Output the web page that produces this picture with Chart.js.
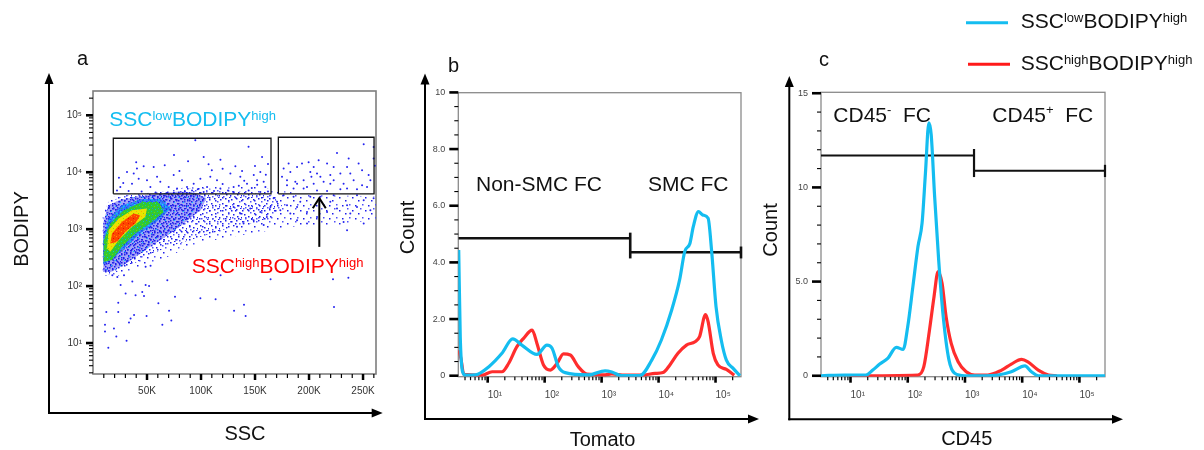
<!DOCTYPE html>
<html><head><meta charset="utf-8">
<script src="https://cdn.jsdelivr.net/npm/chart.js@4.4.1/dist/chart.umd.min.js"></script>
<style>
html,body{margin:0;padding:0;background:#fff;}
body{width:1204px;height:450px;position:relative;overflow:hidden;}
.pane{position:absolute;top:0;height:450px;}
#wa{left:0;width:390px}
#wb{left:390px;width:370px}
#wc{left:755px;width:449px}
</style></head><body>
<div class="pane" id="wa"><canvas id="ca"></canvas></div>
<div class="pane" id="wb"><canvas id="cb"></canvas></div>
<div class="pane" id="wc"><canvas id="cc"></canvas></div>
<script>
// ---------------- Panel a : SSC (K) vs BODIPY ----------------
const sscMajorTicks = [50, 100, 150, 200, 250];
const sscMinorTicks = [10, 20, 30, 40, 60, 70, 80, 90, 110, 120, 130, 140, 160, 170, 180, 190, 210, 220, 230, 240, 260];
const bodipyMajorTicks = [10, 100, 1000, 10000, 100000];
const bodipyMinorTicks = [3, 4, 5, 6, 7, 8, 9, 20, 30, 40, 50, 60, 70, 80, 90, 200, 300, 400, 500, 600, 700, 800, 900,
  2000, 3000, 4000, 5000, 6000, 7000, 8000, 9000, 20000, 30000, 40000, 50000, 60000, 70000, 80000, 90000, 200000];

// density regions of the pseudocolour plot (SSC K, BODIPY)
const cloudSparse = [[9,160],[9,2000],[13,3300],[25,4100],[50,4300],[80,4800],[100,5600],[125,5400],[150,5600],[165,5000],[200,4000],[262,3800],[262,1500],[230,1200],[180,1100],[150,850],[120,700],[90,500],[70,330],[50,230],[30,170],[18,140]];
const cloudMedium = [[9.5,170],[9.5,1700],[14,3000],[30,3900],[60,4400],[87,5500],[112,5100],[140,4600],[165,4000],[175,2600],[165,1500],[130,1100],[99,730],[68,480],[47,310],[31,210],[16,160]];
const cloudDense = [[9.8,180],[9.5,1300],[14,2600],[25,3300],[40,3700],[60,4200],[80,4600],[95,4300],[105,3500],[100,2200],[85,1300],[70,800],[55,520],[40,330],[28,230],[16,175]];
const cloudCyan = [[9.6,240],[9.6,700],[14,1500],[26,2600],[45,3400],[63,3400],[72,2300],[60,1400],[44,850],[30,480],[18,300]];
const cloudGreen = [[9.9,268],[9.9,640],[16,1260],[28.4,2150],[45.4,3000],[60.8,3000],[65.5,2000],[54.6,1340],[39.2,840],[26.9,490],[17.6,286]];
const cloudYellow = [[13,457],[14.5,960],[23.8,1540],[36.1,2150],[50,2300],[48.4,1640],[36.1,1100],[23.8,640],[16,400]];
const cloudRed = [[16,561],[17.6,841],[26.9,1343],[37.7,1885],[43.8,1762],[39.2,1260],[29.9,897],[22.2,598]];

// individual events
const eventsLowGate = [[94.7,36500],[102.5,18600],[144,27900],[156.5,18600],[107,13800],[131.8,12700],[46.9,12700],[56.2,12400],[66.4,13300],[40.7,11600],[31.5,10100],[37.7,9500],[42.3,7700],[50,7200],[36.1,6300],[59.3,8300],[74.7,8900],[82.4,7200],[87,5500],[93.2,6300],[99.4,7700],[108.6,8300],[114.8,7200],[127.2,9500],[136.4,8300],[148.8,8900],[154.9,10100],[130.2,5500],[142.6,6300],[151.9,7200],[159.6,5500],[117.9,5200],[105.6,5500],[70.1,5500],[62.3,6800],[25.3,5500],[22.2,4800],[53.1,5500],[77.8,5200],[91.7,4800],[102.5,4500],[130.2,4500],[144.1,4800],[154.9,4500],[24,8000],[28,6500],[33,4700],[45,4600],[58,4400],[68,4300],[85,4600],[97,5000],[112,4700],[120,6200],[125,4800],[135,5800],[140,7100],[147,5300],[152,6000],[158,6800],[162,4600],[110,10800],[120,11500],[138,10500],[150,12800],[160,9000],[80,10500],[88,15600],[118,16500],[162,14000],[75,20000],[40,15000]];
const eventsHighGate = [[250.6,31000],[225.9,21800],[236.7,17400],[259.8,17400],[208.9,16300],[216.7,14200],[204.3,12400],[193.5,14200],[188.9,12400],[182.7,10100],[176.5,11600],[201.2,10100],[207.4,9500],[219.7,8900],[229,9500],[238.2,9500],[249.1,10800],[255.2,8900],[241.3,7200],[232,6300],[222.8,7200],[213.5,6800],[204.3,6300],[195,7200],[187.3,6800],[179.6,7200],[175,8300],[185.7,5200],[195,5200],[207.4,4800],[216.7,4700],[229,5000],[244.4,5000],[253.7,5500],[256.8,7200],[210.5,8300],[181.1,14200],[245.9,14200],[235.2,12400],[222.8,12400],[199.6,15000],[259.8,27700],[179.6,5900],[188.9,6300],[198.1,5500],[235.2,5200],[249.1,5900],[202.2,8300],[219.7,6300],[261,13000]];
const eventsBelowGates = [[130.2,2460],[136.4,1880],[145.6,2300],[154.9,2000],[164.2,2460],[170.4,3020],[173.4,2150],[179.6,2640],[182.7,1880],[188.9,2460],[191.9,3020],[198.1,2000],[188.9,1440],[198.1,1260],[219.7,3020],[225.9,2300],[216.7,2000],[235.2,2640],[238.2,1880],[244.4,2460],[250.6,3230],[259.8,3500],[256.8,2150],[207.4,1640],[232,1340],[235.2,960],[250.6,1260],[222.8,3960],[210.5,3700],[244.4,3960],[201.2,3700],[185.7,3700],[167.2,3500],[176.5,3960],[161,1640],[148.7,1440],[139.4,1260],[158,1180],[133.3,1100]];
const eventsLow = [[11.7,190],[17.9,155],[22.5,145],[28.7,155],[25.6,105],[30.2,74],[36.4,120],[39.4,69],[45.6,79],[47.2,67],[51.9,100],[48.7,218],[53.3,228],[68.8,127],[75.9,65],[60.5,50],[23.4,51],[12.3,35],[23.4,35],[38,31],[34.8,27],[33.3,23],[11.1,21],[11.1,16],[19.4,18],[21.6,13],[31.1,11],[14.2,8.3],[49.6,30],[70.4,37],[72.5,25],[64.2,21],[113.5,59],[130.6,37],[139.8,47],[141.3,30],[164.4,132],[222.2,132],[236.4,140],[223.1,43],[118.1,155],[48.7,105],[99.4,61]];

const gateLowBox = [[18.8,4170],[164.8,4170],[164.8,39500],[18.8,39500],[18.8,4170]];
const gateHighBox = [[171.6,4170],[260.2,4170],[260.2,41100],[171.6,41100],[171.6,4170]];
const gateArrow = [209.5, 489, 3500]; // SSC, BODIPY from, BODIPY to

// ---------------- Panel b : Tomato histogram ----------------
const fluorMajorTicks = [10, 100, 1000, 10000, 100000];
const fluorMinorTicks = [4, 5, 6, 7, 8, 9, 20, 30, 40, 50, 60, 70, 80, 90, 200, 300, 400, 500, 600, 700, 800, 900,
  2000, 3000, 4000, 5000, 6000, 7000, 8000, 9000, 20000, 30000, 40000, 50000, 60000, 70000, 80000, 90000, 200000];
const tomatoCountMajor = [0, 2, 4, 6, 8, 10];
const tomatoCountMinor = [0.5, 1, 1.5, 2.5, 3, 3.5, 4.5, 5, 5.5, 6.5, 7, 7.5, 8.5, 9, 9.5];

const tomatoLowX = [3.1, 3.3, 3.63, 4.1, 6.1, 10.5, 17.8, 27.5, 39.8, 73.3, 110, 135, 174, 229, 589, 1150, 1510, 2240, 4680, 7590, 11200, 17000, 23400, 28800, 35500, 40700, 50100, 60300, 74100, 85100, 102000, 126000, 155000, 204000, 269000];
const tomatoLowCount = [4.44, 1.38, 0.14, 0.02, 0.03, 0.32, 0.79, 1.30, 1.08, 0.75, 1.08, 0.97, 0.32, 0.11, 0.03, 0.17, 0.13, 0.0, 0.0, 0.55, 1.26, 2.32, 3.38, 4.38, 4.67, 5.26, 5.79, 5.67, 5.56, 4.44, 2.44, 1.26, 0.55, 0.26, 0];
const tomatoHighX = [3.1, 3.4, 3.8, 7.9, 12.0, 17.8, 23.4, 32.4, 42.7, 60.3, 73.3, 95.5, 126, 166, 214, 282, 389, 550, 1150, 1510, 2570, 5010, 8710, 12000, 15800, 21900, 30900, 43700, 52500, 66800, 74100, 91200, 110000, 155000, 214000];
const tomatoHighCount = [0.9, 0.6, 0.05, 0.02, 0.14, 0.14, 0.44, 1.02, 1.32, 1.61, 1.14, 0.38, 0.2, 0.44, 0.77, 0.73, 0.32, 0.06, 0.03, 0.06, 0.02, 0.02, 0.08, 0.11, 0.38, 0.79, 1.08, 1.20, 1.38, 2.16, 1.91, 0.79, 0.38, 0.22, 0.02];
const gateNonSMC = [3.05, 3180, 4.85];   // from, to, level
const gateSMC = [3180, 280000, 4.36];

// ---------------- Panel c : CD45 histogram ----------------
const cd45CountMajor = [0, 5, 10, 15];
const cd45CountMinor = [1, 2, 3, 4, 6, 7, 8, 9, 11, 12, 13, 14];
const cd45LowX = [3.05, 7.85, 18.6, 24.5, 32.4, 44.7, 63.1, 83.2, 100, 123, 151, 178, 204, 234, 257, 295, 347, 417, 525, 661, 1000, 1950, 3800, 6460, 11200, 14500, 19100, 280000];
const cd45LowCount = [0, 0.04, 0.04, 0.30, 0.62, 0.92, 1.51, 1.40, 2.61, 4.73, 6.86, 8.10, 10.77, 13.43, 12.80, 9.52, 6.15, 3.14, 0.84, 0.13, 0, 0, 0.04, 0.21, 0.52, 0.21, 0, 0];
const cd45HighX = [10, 151, 191, 240, 288, 339, 398, 468, 575, 759, 1050, 1480, 2510, 4370, 6460, 9770, 12600, 19100, 28800, 40000];
const cd45HighCount = [0, 0.04, 0.48, 2.43, 4.20, 5.53, 4.91, 3.14, 1.72, 0.74, 0.21, 0.04, 0.04, 0.30, 0.62, 0.87, 0.74, 0.30, 0.04, 0];
const gateCD45neg = [3.05, 1440, 11.69];
const gateCD45pos = [1440, 280000, 10.89];

// ================= helpers =================
const FONT = '"Liberation Sans", Arial, Helvetica, sans-serif';
const BLUE = '#14bdf0', RED = '#ff2d2d';
Chart.defaults.font.family = FONT;
const SUP = {'0':'⁰','1':'¹','2':'²','3':'³','4':'⁴','5':'⁵'};
const pow10Label = v => '10' + SUP[String(Math.round(Math.log10(v)))];
const xy = pairs => pairs.map(([x, y]) => ({x, y}));
const zip = (xs, ys) => xs.map((x, i) => ({x, y: ys[i]}));

function pattern(size, bg, dots) {
  const c = document.createElement('canvas'); c.width = size; c.height = size;
  const g = c.getContext('2d');
  if (bg) { g.fillStyle = bg; g.fillRect(0, 0, size, size); }
  for (const [x, y, col, s] of dots) { g.fillStyle = col; g.fillRect(x, y, s || 1.5, s || 1.5); }
  return g.createPattern(c, 'repeat');
}
const DB = 'rgb(30,30,235)', LB = 'rgb(80,80,250)', CY = 'rgb(0,210,250)';
const patSparse = pattern(13, null, [[1,2,DB],[7,5,DB],[11,9,LB],[4,10,DB],[9,0,LB]]);
const patMedium = pattern(11, null, [[0,1,DB],[5,0,DB],[8,3,LB],[2,5,DB],[6,7,DB],[10,8,DB],[3,9,LB],[9,10,DB]]);
const patDense = pattern(9, 'rgba(40,40,235,0.42)', [[0,0,DB],[4,1,DB],[7,2,DB],[2,3,DB],[6,5,DB],[1,6,DB],[4,7,DB],[8,7,DB],[3,4,CY,1],[7,8,CY,1]]);
const patCyan = pattern(7, 'rgba(20,110,250,0.7)', [[1,1,'rgb(0,225,255)'],[4,3,'rgb(0,210,240)'],[2,5,'rgb(40,200,80)',1],[6,0,'rgb(0,200,255)',1],[5,6,DB,1]]);
const patGreen = pattern(6, 'rgb(50,200,50)', [[1,1,'rgb(0,210,170)',1],[4,2,'rgb(120,220,0)',1],[2,4,'rgb(30,140,240)',1],[5,5,'rgb(0,200,230)',1]]);
const patYellow = pattern(5, 'rgb(235,228,0)', [[1,1,'rgb(255,170,0)',1],[3,3,'rgb(150,220,0)',1],[4,0,'rgb(255,200,0)',1]]);
const patRed = pattern(5, 'rgb(255,70,0)', [[1,1,'rgb(255,150,0)',1],[3,3,'rgb(225,20,0)',1],[4,0,'rgb(255,120,0)',1]]);

function rich(ctx, x, y, parts, color, size, supSize, raise) {
  ctx.fillStyle = color; ctx.textAlign = 'left'; ctx.textBaseline = 'alphabetic';
  for (const [t, sup] of parts) {
    ctx.font = (sup ? supSize : size) + 'px ' + FONT;
    ctx.fillText(t, x, sup ? y - raise : y);
    x += ctx.measureText(t).width;
  }
}
function text(ctx, s, x, y, size, align, color) {
  ctx.font = size + 'px ' + FONT; ctx.fillStyle = color || '#111';
  ctx.textAlign = align || 'left'; ctx.textBaseline = 'alphabetic';
  ctx.fillText(s, x, y);
}
function vtext(ctx, s, cx, cy, size) {
  ctx.save(); ctx.translate(cx, cy); ctx.rotate(-Math.PI / 2);
  text(ctx, s, 0, size * 0.36, size, 'center');
  ctx.restore();
}
function arrowAxes(ctx, x0, y0, yTip, xTip) {
  ctx.save(); ctx.strokeStyle = '#000'; ctx.fillStyle = '#000'; ctx.lineWidth = 2;
  ctx.beginPath(); ctx.moveTo(x0, y0 + 1); ctx.lineTo(x0, yTip + 8); ctx.stroke();
  ctx.beginPath(); ctx.moveTo(x0 - 1, y0); ctx.lineTo(xTip - 8, y0); ctx.stroke();
  ctx.beginPath(); ctx.moveTo(x0, yTip); ctx.lineTo(x0 - 4.5, yTip + 11); ctx.lineTo(x0 + 4.5, yTip + 11); ctx.closePath(); ctx.fill();
  ctx.beginPath(); ctx.moveTo(xTip, y0); ctx.lineTo(xTip - 11, y0 - 4.5); ctx.lineTo(xTip - 11, y0 + 4.5); ctx.closePath(); ctx.fill();
  ctx.restore();
}

function decor(off, spec, draw) {
  return {
    id: 'decor',
    beforeDatasetsDraw(chart) {
      const ctx = chart.ctx, a = chart.chartArea;
      ctx.save();
      ctx.strokeStyle = spec.frame; ctx.lineWidth = spec.frameW;
      ctx.strokeRect(a.left, a.top, a.right - a.left, a.bottom - a.top);
      ctx.strokeStyle = '#000';
      for (const t of spec.ticks) {
        const sc = chart.scales[t.axis];
        for (const v of t.values) {
          const p = sc.getPixelForValue(v);
          ctx.lineWidth = t.w; ctx.beginPath();
          if (t.axis === 'x') { ctx.moveTo(p, a.bottom); ctx.lineTo(p, a.bottom + t.len); }
          else { ctx.moveTo(a.left, p); ctx.lineTo(a.left - t.len, p); }
          ctx.stroke();
        }
      }
      ctx.restore();
    },
    afterDraw(chart) {
      const ctx = chart.ctx; ctx.save(); ctx.translate(-off, 0);
      draw(ctx, chart, off); ctx.restore();
    }
  };
}
const poly = (data, bg, order) => ({data: xy(data), showLine: true, fill: 'shape', backgroundColor: bg, borderWidth: 0, borderColor: 'transparent', pointRadius: 0, order});
const dots = (data, order) => ({data: xy(data), showLine: false, pointRadius: 1, pointStyle: 'circle', backgroundColor: 'rgb(35,35,240)', borderWidth: 0, order});
const gateLine = (data, w, order) => ({data, showLine: true, fill: false, borderColor: '#111', borderWidth: w, pointRadius: 0, order, tension: 0});
const noGrid = {display: false, drawTicks: false};

// ================= Chart a =================
new Chart(document.getElementById('ca'), {
  type: 'scatter',
  data: {datasets: [
    gateLine(xy(gateLowBox), 1.3, 1),
    gateLine(xy(gateHighBox), 1.3, 1),
    dots(eventsLowGate, 2), dots(eventsHighGate, 2), dots(eventsBelowGates, 2), dots(eventsLow, 2),
    poly(cloudRed, patRed, 3),
    poly(cloudYellow, patYellow, 4),
    poly(cloudGreen, patGreen, 5),
    poly(cloudCyan, patCyan, 6),
    poly(cloudDense, patDense, 7),
    poly(cloudMedium, patMedium, 8),
    poly(cloudSparse, patSparse, 9)
  ]},
  options: {
    responsive: true, maintainAspectRatio: false, animation: false, events: [], devicePixelRatio: 1,
    layout: {padding: {left: 53, right: 14, top: 91, bottom: 46}},
    plugins: {legend: {display: false}, tooltip: {enabled: false}},
    scales: {
      x: {type: 'linear', min: 0, max: 262, grid: noGrid, border: {display: false},
        afterBuildTicks: s => { s.ticks = [...sscMajorTicks, ...sscMinorTicks].sort((a, b) => a - b).map(v => ({value: v})); },
        afterFit: s => { s.height = 30; },
        ticks: {autoSkip: false, maxRotation: 0, padding: 11, color: '#333', font: {size: 10},
          callback: v => sscMajorTicks.includes(v) ? v + 'K' : ''}},
      y: {type: 'logarithmic', min: 2.86, max: 267000, grid: noGrid, border: {display: false},
        afterBuildTicks: s => { s.ticks = [...bodipyMajorTicks, ...bodipyMinorTicks].sort((a, b) => a - b).map(v => ({value: v})); },
        afterFit: s => { s.width = 40; },
        ticks: {autoSkip: false, padding: 11, color: '#333', font: {size: 10},
          callback: v => bodipyMajorTicks.includes(v) ? pow10Label(v) : ''}}
    }
  },
  plugins: [decor(0, {frame: '#7d7d7d', frameW: 1.6, ticks: [
      {axis: 'x', values: sscMajorTicks, len: 6, w: 2.5}, {axis: 'x', values: sscMinorTicks, len: 4, w: 1.2},
      {axis: 'y', values: bodipyMajorTicks, len: 7, w: 2.6}, {axis: 'y', values: bodipyMinorTicks, len: 4, w: 1.1}]},
    (ctx, chart) => {
      arrowAxes(ctx, 49, 413, 73, 382.7);
      text(ctx, 'a', 77, 65, 20, 'left');
      vtext(ctx, 'BODIPY', 21, 229, 20);
      text(ctx, 'SSC', 245, 440, 20, 'center');
      rich(ctx, 109.3, 126, [['SSC', 0], ['low', 1], ['BODIPY', 0], ['high', 1]], BLUE, 21, 13, 6);
      rich(ctx, 191.7, 273.3, [['SSC', 0], ['high', 1], ['BODIPY', 0], ['high', 1]], '#ff0000', 21, 13, 6);
      const sx = chart.scales.x.getPixelForValue(gateArrow[0]);
      const y1 = chart.scales.y.getPixelForValue(gateArrow[1]);
      const y2 = chart.scales.y.getPixelForValue(gateArrow[2]);
      ctx.strokeStyle = '#000'; ctx.lineWidth = 2;
      ctx.beginPath(); ctx.moveTo(sx, y1); ctx.lineTo(sx, y2); ctx.stroke();
      ctx.beginPath(); ctx.moveTo(sx - 6.5, y2 + 10); ctx.lineTo(sx, y2); ctx.lineTo(sx + 6.5, y2 + 10); ctx.stroke();
    })]
});

// ================= histogram factory =================
function histogram(id, off, pad, yMin, yMax, yMajor, yMinor, yFmt, lowX, lowY, highX, highY, gates, gateW, draw) {
  const gateSets = gates.map(([from, to, level]) => gateLine([{x: from, y: level}, {x: to, y: level}], gateW, 3));
  return new Chart(document.getElementById(id), {
    type: 'scatter',
    data: {datasets: [
      {data: zip(lowX, lowY), showLine: true, borderColor: BLUE, borderWidth: 3.2, pointRadius: 0, cubicInterpolationMode: 'monotone', order: 1},
      {data: zip(highX, highY), showLine: true, borderColor: RED, borderWidth: 3.2, pointRadius: 0, cubicInterpolationMode: 'monotone', order: 2},
      ...gateSets
    ]},
    options: {
      responsive: true, maintainAspectRatio: false, animation: false, events: [], devicePixelRatio: 1,
      layout: {padding: pad},
      plugins: {legend: {display: false}, tooltip: {enabled: false}},
      scales: {
        x: {type: 'logarithmic', min: 3.05, max: 280000, grid: noGrid, border: {display: false},
          afterBuildTicks: s => { s.ticks = [...fluorMajorTicks, ...fluorMinorTicks].sort((a, b) => a - b).map(v => ({value: v})); },
          afterFit: s => { s.height = 30; },
          ticks: {autoSkip: false, maxRotation: 0, align: 'start', padding: 13, color: '#444', font: {size: 10},
            callback: v => fluorMajorTicks.includes(v) ? pow10Label(v) : ''}},
        y: {type: 'linear', min: yMin, max: yMax, grid: noGrid, border: {display: false},
          afterBuildTicks: s => { s.ticks = [...yMajor, ...yMinor].sort((a, b) => a - b).map(v => ({value: v})); },
          afterFit: s => { s.width = 40; },
          ticks: {autoSkip: false, padding: 13, color: '#444', font: {size: 9},
            callback: v => yMajor.includes(v) ? yFmt(v) : ''}}
      }
    },
    plugins: [decor(off, {frame: '#8a8a8a', frameW: 1.3, ticks: [
        {axis: 'x', values: fluorMajorTicks, len: 6, w: 2.6}, {axis: 'x', values: fluorMinorTicks, len: 3.5, w: 1.2},
        {axis: 'y', values: yMajor, len: 9, w: 2.6}, {axis: 'y', values: yMinor, len: 4, w: 1.1}]}, draw)]
  });
}
function gateEnds(ctx, chart, ends, w, off) {
  ctx.strokeStyle = '#111'; ctx.lineWidth = w;
  for (const [xv, y1, y2] of ends) {
    const px = chart.scales.x.getPixelForValue(xv) + off;
    ctx.beginPath(); ctx.moveTo(px, chart.scales.y.getPixelForValue(y1)); ctx.lineTo(px, chart.scales.y.getPixelForValue(y2)); ctx.stroke();
  }
}

// ================= Chart b =================
histogram('cb', 390, {left: 28.3, right: 19, top: 92.7, bottom: 43.3}, -0.035, 9.99,
  tomatoCountMajor, tomatoCountMinor, v => v === 0 ? '0' : v === 10 ? '10' : v.toFixed(1),
  tomatoLowX, tomatoLowCount, tomatoHighX, tomatoHighCount, [gateNonSMC, gateSMC], 2.6,
  (ctx, chart, off) => {
    gateEnds(ctx, chart, [[gateNonSMC[1], 4.14, 5.05], [gateSMC[1], 4.14, 4.56]], 2.6, off);
    arrowAxes(ctx, 425, 419, 73.5, 759);
    text(ctx, 'b', 448, 71.7, 20, 'left');
    vtext(ctx, 'Count', 406.5, 227.5, 20);
    text(ctx, 'Tomato', 602.5, 446, 20, 'center');
    text(ctx, 'Non-SMC FC', 476, 190.5, 21, 'left');
    text(ctx, 'SMC FC', 648, 190.5, 21, 'left');
  });

// ================= Chart c =================
histogram('cc', 755, {left: 26, right: 99, top: 92.3, bottom: 43.3}, -0.05, 15.05,
  cd45CountMajor, cd45CountMinor, v => v === 5 ? '5.0' : String(v),
  cd45LowX, cd45LowCount, cd45HighX, cd45HighCount, [gateCD45neg, gateCD45pos], 2,
  (ctx, chart, off) => {
    gateEnds(ctx, chart, [[gateCD45neg[1], 10.55, 12.04], [gateCD45pos[1], 10.55, 11.2]], 2.2, off);
    arrowAxes(ctx, 789.3, 419.3, 76, 1123);
    text(ctx, 'c', 819, 66, 20, 'left');
    vtext(ctx, 'Count', 770, 230, 20);
    text(ctx, 'CD45', 966.7, 445, 20, 'center');
    rich(ctx, 833.3, 121.7, [['CD45', 0], ['-', 1], ['  FC', 0]], '#111', 21, 13, 8);
    rich(ctx, 992.3, 121.7, [['CD45', 0], ['+', 1], ['  FC', 0]], '#111', 21, 13, 8);
    // legend
    ctx.lineWidth = 3;
    ctx.strokeStyle = BLUE; ctx.beginPath(); ctx.moveTo(966, 22.7); ctx.lineTo(1008, 22.7); ctx.stroke();
    ctx.strokeStyle = '#ff1a1a'; ctx.beginPath(); ctx.moveTo(968, 64.3); ctx.lineTo(1010, 64.3); ctx.stroke();
    rich(ctx, 1020.7, 28.3, [['SSC', 0], ['low', 1], ['BODIPY', 0], ['high', 1]], '#111', 21, 13, 6);
    rich(ctx, 1020.7, 70, [['SSC', 0], ['high', 1], ['BODIPY', 0], ['high', 1]], '#111', 21, 13, 6);
  });
</script>
</body></html>
